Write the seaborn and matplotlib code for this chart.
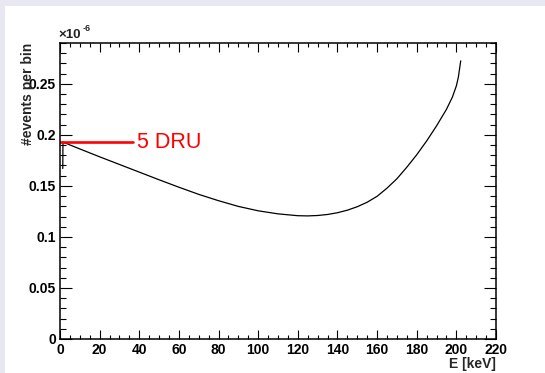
import matplotlib
matplotlib.use("Agg")
import matplotlib.pyplot as plt
from matplotlib.patches import Rectangle
from matplotlib.ticker import MultipleLocator, FuncFormatter
import seaborn as sns
import pandas as pd

# Expected event rate per bin (units of 1e-6) versus recoil energy
energy_kev = [1.4, 1.5, 10, 20, 30, 40, 50, 60, 70, 80, 90, 100, 110, 120, 125,
              130, 135, 140, 145, 150, 155, 160, 165, 170, 175, 180, 185, 190,
              195, 198, 200, 201, 202.2]
rate_e6 = [0.167, 0.1929, 0.1862, 0.1785, 0.1710, 0.1635, 0.1560, 0.1487,
           0.1417, 0.1355, 0.1299, 0.1256, 0.1226, 0.1208, 0.1206, 0.1210,
           0.1220, 0.1237, 0.1262, 0.1296, 0.1340, 0.1398, 0.1478, 0.1570,
           0.1683, 0.1805, 0.1940, 0.2088, 0.2250, 0.2370, 0.2480, 0.2565,
           0.2725]

# Reference level marker
dru_label = "5 DRU"
dru_level = 0.193
dru_x = [0, 36.8]

x_ticks = [0, 20, 40, 60, 80, 100, 120, 140, 160, 180, 200, 220]
y_ticks = [0, 0.05, 0.1, 0.15, 0.2, 0.25]

sns.set_theme(style="ticks")
plt.rcParams["font.family"] = ["Liberation Sans", "DejaVu Sans"]

W, H = 545, 373
fig = plt.figure(figsize=(W / 100, H / 100), dpi=100)
fig.patch.set_facecolor("#e8e8f3")
fig.patches.append(Rectangle((5 / W, 0), 1, 1 - 6 / H, transform=fig.transFigure,
                             facecolor="white", edgecolor="none", zorder=-10))

ax = fig.add_axes([60 / W, 1 - 339 / H, 436 / W, 296 / H])
ax.set_facecolor("white")

curve = pd.DataFrame({"E": energy_kev, "rate": rate_e6})
sns.lineplot(data=curve, x="E", y="rate", ax=ax, color="black", lw=0.9,
             sort=False, estimator=None)

dru = pd.DataFrame({"E": dru_x, "rate": [dru_level] * len(dru_x)})
sns.lineplot(data=dru, x="E", y="rate", ax=ax, color="red", lw=1.9,
             estimator=None)
ax.text(dru_x[-1] + 2.3, dru_level, dru_label, color="red", fontsize=15.5,
        va="center", ha="left")

ax.set_xlim(0, 220)
ax.set_ylim(0, 0.29)
ax.set_xticks(x_ticks)
ax.set_yticks(y_ticks)
ax.xaxis.set_minor_locator(MultipleLocator(5))
ax.yaxis.set_minor_locator(MultipleLocator(0.01))
ax.yaxis.set_major_formatter(FuncFormatter(lambda v, p: f"{v:g}"))

ax.tick_params(axis="both", which="both", direction="in", top=True, right=True,
               colors="black", width=0.8)
ax.tick_params(axis="x", which="major", length=6.5, pad=3, labelsize=10)
ax.tick_params(axis="x", which="minor", length=3.2)
ax.tick_params(axis="y", which="major", length=8.6, pad=3, labelsize=10)
ax.tick_params(axis="y", which="minor", length=4.3)
for lab in ax.get_xticklabels() + ax.get_yticklabels():
    lab.set_fontweight("bold")

for s in ax.spines.values():
    s.set_visible(True)
    s.set_color("black")
    s.set_linewidth(1.1)

ax.set_xlabel("E [keV]", fontsize=10, fontweight="bold", loc="right")
ax.xaxis.set_label_coords(1.0, -0.062)
ax.xaxis.label.set_va("top")
ax.set_ylabel("#events per bin", fontsize=10, fontweight="bold", loc="top")
ax.yaxis.set_label_coords(-0.057, 1.0)

ax.text(-0.003, 1.006, "\u00d710", transform=ax.transAxes, fontsize=9.5,
        fontweight="bold", ha="left", va="bottom", color="#222222")
ax.text(0.053, 1.035, "-6", transform=ax.transAxes, fontsize=6.5,
        fontweight="bold", ha="left", va="bottom")

fig.savefig("out.png", dpi=100, facecolor=fig.get_facecolor())
